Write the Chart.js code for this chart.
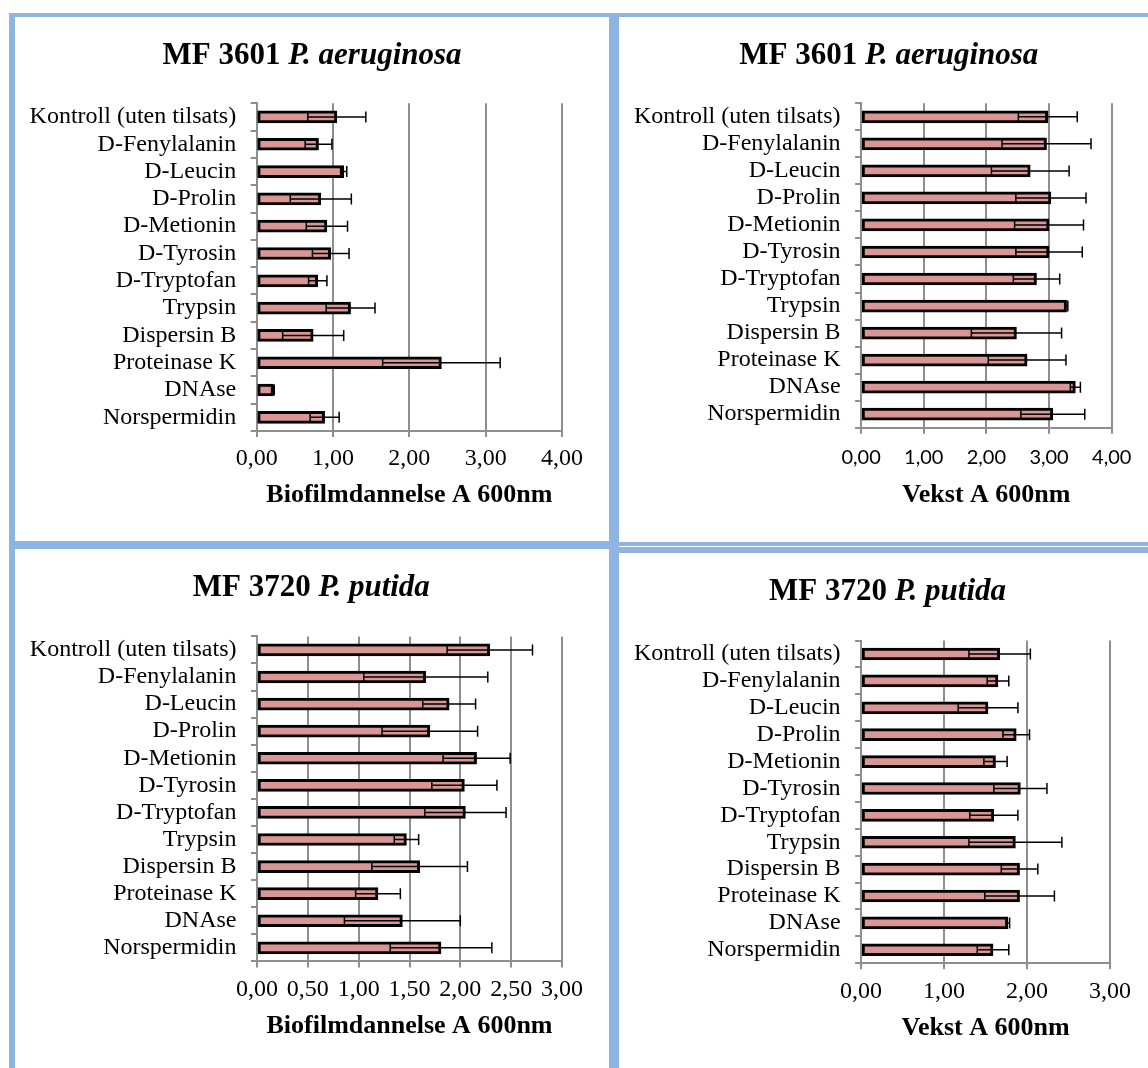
<!DOCTYPE html>
<html>
<head>
<meta charset="utf-8">
<script src="https://cdn.jsdelivr.net/npm/chart.js@4.4.1/dist/chart.umd.min.js"></script>
<style>
  html, body { margin: 0; padding: 0; background: #fff; }
  #sheet { position: relative; width: 1148px; height: 1068px; overflow: hidden; background: #fff; }
  .frame { position: absolute; background: #8db4e2; }
  canvas.panel { position: absolute; }
</style>
</head>
<body>
<div id="sheet">
  <canvas id="aerBiofilmChart" class="panel" width="594" height="524" style="left:15px;top:17px"></canvas>
  <canvas id="aerGrowthChart" class="panel" width="529" height="525" style="left:619px;top:17px"></canvas>
  <canvas id="putBiofilmChart" class="panel" width="594" height="519" style="left:15px;top:549px"></canvas>
  <canvas id="putGrowthChart" class="panel" width="529" height="515" style="left:619px;top:553px"></canvas>

  <!-- blue chart frames -->
  <div class="frame" style="left:9px;top:13px;width:1139px;height:4px"></div>
  <div class="frame" style="left:9px;top:13px;width:6px;height:1055px"></div>
  <div class="frame" style="left:609px;top:13px;width:10px;height:1055px"></div>
  <div class="frame" style="left:9px;top:541px;width:600px;height:8px"></div>
  <div class="frame" style="left:615px;top:542px;width:533px;height:4px"></div>
  <div class="frame" style="left:615px;top:547px;width:533px;height:6px"></div>
</div>

<script>
// Treatments, top to bottom
const categories = [
  'Kontroll (uten tilsats)', 'D-Fenylalanin', 'D-Leucin', 'D-Prolin', 'D-Metionin',
  'D-Tyrosin', 'D-Tryptofan', 'Trypsin', 'Dispersin B', 'Proteinase K', 'DNAse', 'Norspermidin'
];

// MF 3601 P. aeruginosa – biofilm formation (A 600nm) and standard deviation
const aerBiofilm   = [1.05, 0.81, 1.14, 0.84, 0.92, 0.97, 0.80, 1.23, 0.74, 2.42, 0.22, 0.89];
const aerBiofilmSd = [0.38, 0.175, 0.04, 0.40, 0.27, 0.24, 0.12, 0.32, 0.40, 0.77, 0.01, 0.19];

// MF 3601 P. aeruginosa – growth (A 600nm)
const aerGrowth    = [2.98, 2.96, 2.70, 3.03, 3.00, 3.00, 2.80, 3.28, 2.48, 2.65, 3.42, 3.06];
const aerGrowthSd  = [0.47, 0.71, 0.62, 0.56, 0.55, 0.53, 0.37, 0.02, 0.72, 0.62, 0.08, 0.51];

// MF 3720 P. putida – biofilm formation (A 600nm)
const putBiofilm   = [2.29, 1.66, 1.89, 1.70, 2.16, 2.04, 2.05, 1.47, 1.60, 1.19, 1.43, 1.81];
const putBiofilmSd = [0.42, 0.61, 0.26, 0.47, 0.33, 0.32, 0.40, 0.12, 0.47, 0.22, 0.57, 0.50];

// MF 3720 P. putida – growth (A 600nm)
const putGrowth    = [1.67, 1.65, 1.53, 1.87, 1.62, 1.92, 1.60, 1.86, 1.91, 1.91, 1.77, 1.59];
const putGrowthSd  = [0.37, 0.13, 0.36, 0.16, 0.14, 0.32, 0.29, 0.56, 0.22, 0.42, 0.02, 0.19];

// Value-axis tick labels
const ticksWhole4 = ['0,00', '1,00', '2,00', '3,00', '4,00'];
const ticksHalf3  = ['0,00', '0,50', '1,00', '1,50', '2,00', '2,50', '3,00'];
const ticksWhole3 = ['0,00', '1,00', '2,00', '3,00'];

const SERIF = "'Liberation Serif', 'Times New Roman', serif";
const SANS = "Lato, 'Open Sans', sans-serif";
const GRID = '#8e8e8e';
const BAR_FILL = '#d99694';

// Symmetric error bars with caps at both ends
const errorBars = {
  id: 'errorBars',
  afterDatasetsDraw(chart) {
    const ctx = chart.ctx;
    const xs = chart.scales.x;
    chart.data.datasets.forEach((ds, di) => {
      const meta = chart.getDatasetMeta(di);
      meta.data.forEach((bar, i) => {
        const v = ds.data[i], e = ds.errors[i];
        const x1 = xs.getPixelForValue(v - e);
        const x2 = xs.getPixelForValue(v + e);
        const y = bar.y, cap = 5.5;
        ctx.save();
        ctx.strokeStyle = '#000';
        ctx.lineWidth = 1.5;
        ctx.beginPath();
        ctx.moveTo(x1, y); ctx.lineTo(x2, y);
        ctx.moveTo(x1, y - cap); ctx.lineTo(x1, y + cap);
        ctx.moveTo(x2, y - cap); ctx.lineTo(x2, y + cap);
        ctx.stroke();
        ctx.restore();
      });
    });
  }
};

// Chart heading with a bold strain number and a bold-italic species name
const panelTitle = {
  id: 'panelTitle',
  afterDraw(chart, args, opts) {
    const ctx = chart.ctx;
    const fonts = opts.parts.map(p => `${p.style} ${opts.size}px ${SERIF}`);
    ctx.save();
    let total = 0;
    const widths = opts.parts.map((p, i) => { ctx.font = fonts[i]; const w = ctx.measureText(p.text).width; total += w; return w; });
    let x = opts.x - total / 2;
    ctx.fillStyle = '#000';
    ctx.textBaseline = 'alphabetic';
    ctx.textAlign = 'left';
    opts.parts.forEach((p, i) => { ctx.font = fonts[i]; ctx.fillText(p.text, x, opts.y); x += widths[i]; });
    ctx.restore();
  }
};

function makePanel(id, cfg) {
  const step = cfg.max / (cfg.tickLabels.length - 1);
  return new Chart(document.getElementById(id), {
    type: 'bar',
    data: {
      labels: categories,
      datasets: [{
        data: cfg.values,
        errors: cfg.errors,
        backgroundColor: BAR_FILL,
        borderColor: '#000',
        borderWidth: 3,
        borderSkipped: false,
        barThickness: 12
      }]
    },
    options: {
      indexAxis: 'y',
      responsive: false,
      animation: false,
      events: [],
      layout: { padding: { left: 0, top: cfg.top, right: cfg.right, bottom: 0 } },
      plugins: {
        legend: { display: false },
        tooltip: { enabled: false },
        panelTitle: { parts: [{ text: cfg.strain + ' ', style: 'bold' }, { text: cfg.species, style: 'italic bold' }], size: 31, x: cfg.titleX, y: cfg.titleY }
      },
      scales: {
        x: {
          type: 'linear',
          min: 0,
          max: cfg.max,
          afterFit: s => { s.height = cfg.xHeight; },
          ticks: {
            stepSize: step,
            autoSkip: false,
            maxRotation: 0,
            padding: cfg.tickPad,
            color: '#000',
            font: cfg.tickFont,
            callback: (v, i) => cfg.tickLabels[i]
          },
          grid: { color: GRID, lineWidth: 2, tickLength: 6 },
          border: { display: true, color: GRID, width: 2 },
          title: {
            display: true,
            text: cfg.axisTitle,
            color: '#000',
            font: { family: SERIF, size: 26, weight: 'bold' },
            padding: { top: 0, bottom: cfg.titlePad }
          }
        },
        y: {
          type: 'category',
          afterFit: s => { s.width = cfg.yWidth; },
          ticks: { autoSkip: false, padding: 14.5, color: '#000', font: { family: SERIF, size: 24 } },
          grid: { drawOnChartArea: false, color: GRID, lineWidth: 2, tickLength: 6, offset: true },
          border: { display: true, color: GRID, width: 2 }
        }
      }
    },
    plugins: [errorBars, panelTitle]
  });
}

const serifTicks = { family: SERIF, size: 24 };

makePanel('aerBiofilmChart', {
  values: aerBiofilm, errors: aerBiofilmSd, max: 4, tickLabels: ticksWhole4,
  strain: 'MF 3601', species: 'P. aeruginosa', axisTitle: 'Biofilmdannelse A 600nm',
  top: 86.3, right: 47, yWidth: 241.7, xHeight: 110, tickPad: 7, titlePad: 29.7,
  tickFont: serifTicks, titleX: 297, titleY: 46.7
});

makePanel('aerGrowthChart', {
  values: aerGrowth, errors: aerGrowthSd, max: 4, tickLabels: ticksWhole4,
  strain: 'MF 3601', species: 'P. aeruginosa', axisTitle: 'Vekst A 600nm',
  top: 86.3, right: 36.3, yWidth: 242.1, xHeight: 114.3, tickPad: 12, titlePad: 30.7,
  tickFont: { family: SANS, size: 20 }, titleX: 269.8, titleY: 46.7
});

makePanel('putBiofilmChart', {
  values: putBiofilm, errors: putBiofilmSd, max: 3, tickLabels: ticksHalf3,
  strain: 'MF 3720', species: 'P. putida', axisTitle: 'Biofilmdannelse A 600nm',
  top: 87.4, right: 47, yWidth: 242, xHeight: 106.6, tickPad: 8.3, titlePad: 25.7,
  tickFont: serifTicks, titleX: 296.3, titleY: 47.2
});

makePanel('putGrowthChart', {
  values: putGrowth, errors: putGrowthSd, max: 3, tickLabels: ticksWhole3,
  strain: 'MF 3720', species: 'P. putida', axisTitle: 'Vekst A 600nm',
  top: 87.6, right: 38, yWidth: 242.1, xHeight: 104.8, tickPad: 7.8, titlePad: 23.9,
  tickFont: serifTicks, titleX: 268.5, titleY: 46.7
});
</script>
</body>
</html>
